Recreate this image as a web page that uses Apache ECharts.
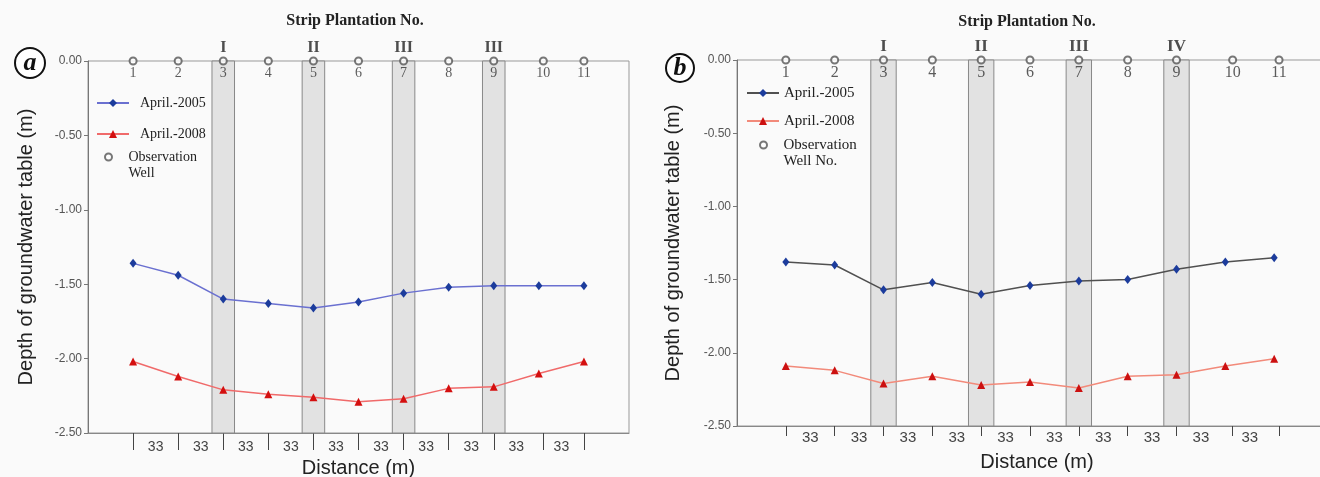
<!DOCTYPE html>
<html>
<head>
<meta charset="utf-8">
<script src="https://cdn.jsdelivr.net/npm/echarts@6/dist/echarts.min.js"></script>
<style>
  html, body { margin: 0; padding: 0; background: #fff; }
  #chart { width: 1320px; height: 477px; }
</style>
</head>
<body>
<div id="chart"></div>
<script>
// observation wells: number and position (in well spacings from the axis)
const wellNo = ['1', '2', '3', '4', '5', '6', '7', '8', '9', '10', '11'];
const wellPosA = [1, 2, 3, 4, 5, 6, 7, 8, 9, 10.1, 11];
const wellPosB = [1, 2, 3, 4, 5, 6, 7, 8, 9, 10.15, 11.1];
const pointPos = [1, 2, 3, 4, 5, 6, 7, 8, 9, 10, 11];

// strip plantations
const stripPos = [3, 5, 7, 9];
const stripNamesA = ['I', 'II', 'III', 'III'];
const stripNamesB = ['I', 'II', 'III', 'IV'];

// distance between wells (m)
const distPos = [1.5, 2.5, 3.5, 4.5, 5.5, 6.5, 7.5, 8.5, 9.5, 10.5];
const distLabels = ['33', '33', '33', '33', '33', '33', '33', '33', '33', '33'];

// depth of groundwater table (m)
const depthA2005 = [-1.36, -1.44, -1.60, -1.63, -1.66, -1.62, -1.56, -1.52, -1.51, -1.51, -1.51];
const depthA2008 = [-2.02, -2.12, -2.21, -2.24, -2.26, -2.29, -2.27, -2.20, -2.19, -2.10, -2.02];
const depthB2005 = [-1.38, -1.40, -1.57, -1.52, -1.60, -1.54, -1.51, -1.50, -1.43, -1.38, -1.35];
const depthB2008 = [-2.09, -2.12, -2.21, -2.16, -2.22, -2.20, -2.24, -2.16, -2.15, -2.09, -2.04];

const serif = '"Liberation Serif", "DejaVu Serif", serif';
const sans = '"Liberation Sans", Arial, sans-serif';

var myChart = echarts.init(document.getElementById('chart'));

// one panel = grid + axes settings
const panels = [
    { left: 88, top: 61, width: 541, height: 372, tickLen: 17, distSize: 14, distMargin: 7,
      nameGap: 25, namePad: 0, yNameGap: 52, wellPos: wellPosA, strips: stripNamesA, hw: 0.25,
      numSize: 14, numDist: 1, romanSize: 16, romanDist: 5,
      c05line: '#6a70d0', c05dot: '#1c3c9c', c08line: '#f06a6a', c08dot: '#d40f0f',
      d05: depthA2005, d08: depthA2008, wellName: 'Observation\nWell' },
    { left: 737, top: 60, width: 586, height: 366, tickLen: 10, distSize: 15, distMargin: 4,
      nameGap: 26, namePad: 14, yNameGap: 54, wellPos: wellPosB, strips: stripNamesB, hw: 0.26,
      numSize: 16, numDist: 0, romanSize: 17, romanDist: 5,
      c05line: '#505050', c05dot: '#1c3c9c', c08line: '#f28a7a', c08dot: '#cc1010',
      d05: depthB2005, d08: depthB2008, wellName: 'Observation\nWell No.' }
];

const grid = [], xAxis = [], yAxis = [], series = [];
panels.forEach((p, i) => {
    grid.push({ left: p.left, top: p.top, width: p.width, height: p.height, show: true,
        outerBoundsMode: 'none', containLabel: false,
        borderColor: '#999', borderWidth: 1, backgroundColor: '#fafafa' });
    xAxis.push({
        type: 'value', gridIndex: i, min: 0, max: 12, position: 'bottom',
        name: 'Distance (m)', nameLocation: 'middle', nameGap: p.nameGap,
        nameTextStyle: { fontFamily: sans, fontSize: 20, color: '#222', padding: [0, 0, 0, p.namePad] },
        axisLine: { onZero: false, lineStyle: { color: '#888' } },
        axisTick: { show: true, customValues: p.wellPos, length: p.tickLen, lineStyle: { color: '#444' } },
        axisLabel: {
            customValues: distPos, margin: p.distMargin, fontFamily: sans, fontSize: p.distSize, color: '#444',
            formatter: v => distLabels[distPos.indexOf(v)] || ''
        },
        splitLine: { show: false }
    });
    yAxis.push({
        type: 'value', gridIndex: i, min: -2.5, max: 0, interval: 0.5,
        name: 'Depth of groundwater table (m)', nameLocation: 'middle', nameGap: p.yNameGap,
        nameTextStyle: { fontFamily: sans, fontSize: 20, color: '#222' },
        axisLine: { show: true, onZero: false, lineStyle: { color: '#777' } },
        axisTick: { show: true, length: 4, lineStyle: { color: '#777' } },
        axisLabel: { fontFamily: sans, fontSize: 12, color: '#555', margin: 6, formatter: v => v.toFixed(2) },
        splitLine: { show: false }
    });
    series.push({
        name: 'April.-2005', type: 'line', xAxisIndex: i, yAxisIndex: i,
        data: pointPos.map((x, k) => [x, p.d05[k]]),
        symbol: 'diamond', symbolSize: [7, 9],
        itemStyle: { color: p.c05dot },
        lineStyle: { color: p.c05line, width: 1.5 },
        emphasis: { disabled: true }, z: 3,
        markArea: {
            silent: true,
            itemStyle: { color: '#e2e2e2', borderColor: '#888', borderWidth: 1 },
            data: stripPos.map(x => [{ xAxis: x - p.hw }, { xAxis: x + p.hw }])
        }
    });
    series.push({
        name: 'April.-2008', type: 'line', xAxisIndex: i, yAxisIndex: i,
        data: pointPos.map((x, k) => [x, p.d08[k]]),
        symbol: 'triangle', symbolSize: 8,
        itemStyle: { color: p.c08dot },
        lineStyle: { color: p.c08line, width: 1.5 },
        emphasis: { disabled: true }, z: 3
    });
    series.push({
        name: p.wellName, type: 'scatter', xAxisIndex: i, yAxisIndex: i, clip: false,
        data: p.wellPos.map(x => [x, 0]),
        symbol: 'emptyCircle', symbolSize: 7,
        itemStyle: { color: '#555', borderWidth: 1 },
        label: {
            show: true, position: 'bottom', distance: p.numDist,
            fontFamily: serif, fontSize: p.numSize, color: '#333',
            formatter: d => wellNo[d.dataIndex]
        },
        emphasis: { disabled: true }, z: 5
    });
    series.push({
        name: 'strip' + i, type: 'scatter', xAxisIndex: i, yAxisIndex: i, clip: false, silent: true,
        data: stripPos.map(x => [x, 0]),
        symbolSize: 0,
        label: {
            show: true, position: 'top', distance: p.romanDist,
            fontFamily: serif, fontWeight: 'bold', fontSize: p.romanSize, color: '#222',
            formatter: d => p.strips[d.dataIndex]
        },
        z: 5
    });
});

// one legend per item so each sits where the figure has it
function leg(name, left, top, o) {
    return {
        left: left, top: top, padding: 0, selectedMode: false,
        itemWidth: o.w, itemHeight: o.h,
        data: [Object.assign({ name: name }, o.item || {})],
        // a leading blank line keeps the icon level with the first text line
        formatter: o.blank ? (n => '\n' + n) : (n => n),
        textStyle: { fontFamily: serif, fontSize: o.size, color: '#222', lineHeight: 16, padding: o.pad }
    };
}
const legend = [
    leg('April.-2005', 96, 95, { w: 32, h: 10, size: 14, pad: [0, 0, 0, 6] }),
    leg('April.-2008', 96, 126, { w: 32, h: 10, size: 14, pad: [0, 0, 0, 6] }),
    leg('Observation\nWell', 104, 133, { w: 30, h: 7, size: 14, pad: 0, blank: true, item: { icon: 'emptyCircle' } }),
    leg('April.-2005', 746, 85, { w: 32, h: 10, size: 15, pad: 0,
        item: { itemStyle: { color: '#1c3c9c' }, lineStyle: { color: '#505050' } } }),
    leg('April.-2008', 746, 113, { w: 32, h: 10, size: 15, pad: 0,
        item: { itemStyle: { color: '#cc1010' }, lineStyle: { color: '#f28a7a' } } }),
    leg('Observation\nWell No.', 759, 121, { w: 30, h: 7, size: 15, pad: 0, blank: true, item: { icon: 'emptyCircle' } })
];

function panelMark(txt, cx, cy, r) {
    return [
        { type: 'circle', shape: { cx: cx, cy: cy, r: r }, style: { fill: '#fff', stroke: '#111', lineWidth: 2 } },
        { type: 'text', x: cx, y: cy, style: { text: txt, font: 'italic bold 26px ' + serif, fill: '#111',
            align: 'center', verticalAlign: 'middle' } }
    ];
}

const graphic = [
    { type: 'text', x: 355, y: 21, style: { text: 'Strip Plantation No.', font: 'bold 16px ' + serif,
        fill: '#222', align: 'center', verticalAlign: 'middle' } },
    { type: 'text', x: 1027, y: 22, style: { text: 'Strip Plantation No.', font: 'bold 16px ' + serif,
        fill: '#222', align: 'center', verticalAlign: 'middle' } }
].concat(panelMark('a', 30, 63, 15), panelMark('b', 680, 68, 14));

myChart.setOption({
    animation: false,
    backgroundColor: '#fafafa',
    grid: grid,
    xAxis: xAxis,
    yAxis: yAxis,
    legend: legend,
    graphic: graphic,
    series: series
});
</script>
</body>
</html>
